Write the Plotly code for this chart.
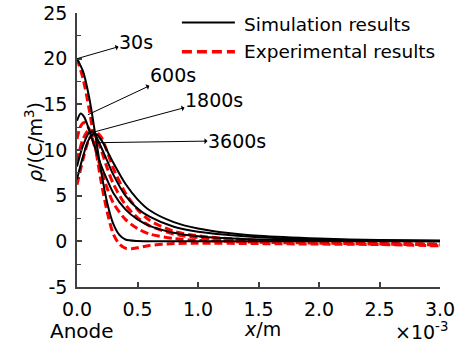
import plotly.graph_objects as go

# ---------------- data (x in units of 1e-3 m, rho in C/m^3) ----------------
sim_30_x = [0, 0.05, 0.1, 0.15, 0.2, 0.25, 0.3, 0.35, 0.4, 0.5, 0.7, 1.0, 1.5, 2.0, 2.5, 3.0]
sim_30_y = [20, 18.6, 15.8, 11.8, 7.6, 4.2, 1.9, 0.7, 0.2, 0.03, 0, 0, 0, 0, 0, 0]

sim_600_x = [0, 0.03, 0.06, 0.1, 0.15, 0.2, 0.25, 0.3, 0.4, 0.5, 0.6, 0.8, 1.0, 1.25, 1.5, 2.0, 2.5, 3.0]
sim_600_y = [13.2, 14.0, 13.6, 12.2, 10.2, 8.3, 6.7, 5.3, 3.5, 2.4, 1.7, 0.95, 0.55, 0.33, 0.2, 0.1, 0.05, 0.02]

sim_1800_x = [0, 0.05, 0.1, 0.13, 0.15, 0.2, 0.25, 0.3, 0.4, 0.5, 0.6, 0.8, 1.0, 1.25, 1.5, 2.0, 2.5, 3.0]
sim_1800_y = [8.2, 10.5, 11.9, 12.0, 11.7, 10.3, 8.8, 7.3, 5.0, 3.6, 2.7, 1.6, 1.05, 0.7, 0.45, 0.2, 0.1, 0.05]

sim_3600_x = [0, 0.05, 0.1, 0.15, 0.2, 0.25, 0.3, 0.4, 0.5, 0.6, 0.8, 1.0, 1.25, 1.5, 2.0, 2.5, 3.0]
sim_3600_y = [6.8, 9.3, 11.2, 11.8, 11.1, 9.9, 8.6, 6.3, 4.6, 3.4, 2.1, 1.4, 0.9, 0.6, 0.3, 0.15, 0.1]

exp_30_x = [0, 0.05, 0.1, 0.15, 0.2, 0.25, 0.3, 0.35, 0.4, 0.45, 0.5, 0.6, 0.8, 1.0, 1.5, 2.0, 2.5, 3.0]
exp_30_y = [20, 17.8, 14.5, 10.5, 6.5, 3.2, 0.8, -0.3, -0.75, -0.8, -0.7, -0.45, -0.25, -0.2, -0.25, -0.3, -0.35, -0.5]

exp_600_x = [0, 0.03, 0.06, 0.1, 0.15, 0.2, 0.25, 0.3, 0.4, 0.5, 0.6, 0.8, 1.0, 1.5, 2.0, 2.5, 3.0]
exp_600_y = [11.2, 12.6, 13.0, 12.3, 10.2, 7.8, 5.8, 4.2, 2.4, 1.4, 0.8, 0.3, 0.1, -0.1, -0.2, -0.3, -0.4]

exp_1800_x = [0, 0.05, 0.1, 0.15, 0.2, 0.25, 0.3, 0.4, 0.5, 0.6, 0.8, 1.0, 1.5, 2.0, 2.5, 3.0]
exp_1800_y = [8.8, 11.2, 12.2, 11.6, 10.0, 8.0, 6.3, 4.0, 2.6, 1.7, 0.8, 0.4, 0.0, -0.15, -0.25, -0.35]

exp_3600_x = [0, 0.05, 0.1, 0.15, 0.2, 0.25, 0.3, 0.4, 0.5, 0.6, 0.8, 1.0, 1.5, 2.0, 2.5, 3.0]
exp_3600_y = [6.2, 9.0, 11.2, 12.0, 11.4, 9.8, 8.0, 5.3, 3.5, 2.3, 1.1, 0.6, 0.1, -0.1, -0.2, -0.3]

x_tickvals = [0, 0.5, 1.0, 1.5, 2.0, 2.5, 3.0]
x_ticktext = ["0.0", "0.5", "1.0", "1.5", "2.0", "2.5", "3.0"]
y_tickvals = [-5, 0, 5, 10, 15, 20, 25]
y_ticktext = ["-5", "0", "5", "10", "15", "20", "25"]

# arrow labels: text, point on curve (x, y)
label_texts = ["30s", "600s", "1800s", "3600s"]
label_px = [0.0, 0.09, 0.149, 0.165]
label_py = [20.0, 13.86, 12.0, 10.8]

FONT = "DejaVu Sans"
FS = 19

fig = go.Figure()

exp_sets = [(exp_30_x, exp_30_y), (exp_600_x, exp_600_y), (exp_1800_x, exp_1800_y), (exp_3600_x, exp_3600_y)]
sim_sets = [(sim_30_x, sim_30_y), (sim_600_x, sim_600_y), (sim_1800_x, sim_1800_y), (sim_3600_x, sim_3600_y)]

for xs, ys in exp_sets:
    fig.add_trace(go.Scatter(x=xs, y=ys, mode="lines", showlegend=False, hoverinfo="skip",
                             line=dict(color="#ff0000", width=3, dash="8px,4px", shape="spline", smoothing=0.8)))
for xs, ys in sim_sets:
    fig.add_trace(go.Scatter(x=xs, y=ys, mode="lines", showlegend=False, hoverinfo="skip",
                             line=dict(color="black", width=2, shape="spline", smoothing=0.8)))

axcol = "#404040"
fig.update_xaxes(range=[0, 3], tickmode="array", tickvals=x_tickvals, ticktext=x_ticktext,
                 ticks="inside", ticklen=5, tickwidth=1.5, tickcolor=axcol, automargin=False,
                 showline=True, linecolor=axcol, linewidth=1.5, showgrid=False, zeroline=False,
                 tickfont=dict(family=FONT, size=FS, color="black"), ticklabelstandoff=4)
fig.update_yaxes(range=[-5, 25], tickmode="array", tickvals=y_tickvals, ticktext=y_ticktext,
                 ticks="inside", ticklen=5, tickwidth=1.5, tickcolor=axcol, automargin=False,
                 minor=dict(tickmode="linear", tick0=0, dtick=2.5, ticks="inside", ticklen=4, tickwidth=1.2, tickcolor=axcol),
                 showline=True, linecolor=axcol, linewidth=1.5, showgrid=False, zeroline=False,
                 tickfont=dict(family=FONT, size=FS, color="black"), ticklabelstandoff=4)

# arrow annotations (head at the text side)
offsets = [(59, -17), (85, -40), (119, -32), (140, -2)]
for t, px, py, (ax, ay) in zip(label_texts, label_px, label_py, offsets):
    fig.add_annotation(x=px, y=py, text=t, showarrow=True, arrowside="start",
                       ax=ax, ay=ay, arrowhead=2, arrowsize=1, arrowwidth=1, arrowcolor="black",
                       font=dict(family=FONT, size=FS, color="black"), borderpad=0)

# axis titles
fig.add_annotation(xref="paper", yref="paper", x=-0.118, y=0.53, textangle=-90,
                   xanchor="center", yanchor="middle",
                   text="<i>ρ</i>/(C/m<sup>3</sup>)", showarrow=False,
                   font=dict(family=FONT, size=FS, color="black"))
fig.add_annotation(xref="paper", yref="paper", x=0.51, y=-0.153, xanchor="center", yanchor="middle",
                   text="<i>x</i>/m", showarrow=False, font=dict(family=FONT, size=FS, color="black"))
fig.add_annotation(xref="paper", yref="paper", x=0.95, y=-0.16, xanchor="center", yanchor="middle",
                   text="×10<sup>-3</sup>", showarrow=False, font=dict(family=FONT, size=FS, color="black"))
fig.add_annotation(xref="paper", yref="paper", x=0.014, y=-0.16, xanchor="center", yanchor="middle",
                   text="Anode", showarrow=False, font=dict(family=FONT, size=20, color="black"))

# legend (manual)
fig.add_shape(type="line", xref="paper", yref="paper", x0=0.289, x1=0.435, y0=0.965, y1=0.965,
              line=dict(color="black", width=2))
fig.add_shape(type="line", xref="paper", yref="paper", x0=0.289, x1=0.435, y0=0.859, y1=0.859,
              line=dict(color="#ff0000", width=3.5, dash="10px,5px"))
fig.add_annotation(xref="paper", yref="paper", x=0.455, y=0.958, xanchor="left", yanchor="middle",
                   text="Simulation results", showarrow=False, font=dict(family=FONT, size=18.5, color="black"))
fig.add_annotation(xref="paper", yref="paper", x=0.455, y=0.859, xanchor="left", yanchor="middle",
                   text="Experimental results", showarrow=False, font=dict(family=FONT, size=18.5, color="black"))

fig.update_layout(width=462, height=343, margin=dict(l=77, r=22, t=13, b=56, autoexpand=False),
                  plot_bgcolor="white", paper_bgcolor="white", showlegend=False, hovermode=False)

fig.write_html("out.html", config={"displayModeBar": False},
               post_script="document.body.style.margin='0';document.body.style.overflow='hidden';")
